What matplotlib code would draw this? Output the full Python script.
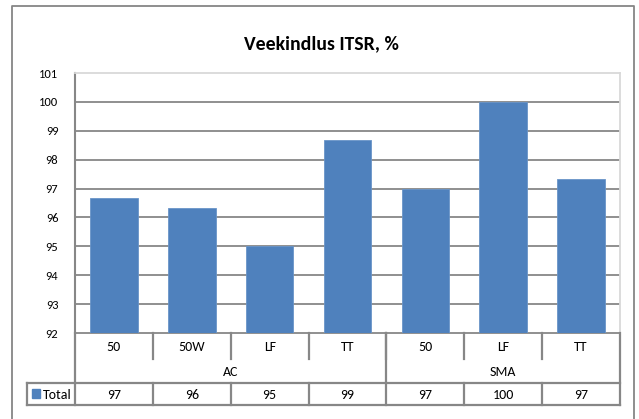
import matplotlib
matplotlib.use("Agg")
import matplotlib.pyplot as plt
from matplotlib.patches import Rectangle
from matplotlib.lines import Line2D

plt.rcParams['font.family'] = ['Carlito', 'Lato', 'DejaVu Sans']

title = "Veekindlus ITSR, %"
categories = ["50", "50W", "LF", "TT", "50", "LF", "TT"]
groups = ["AC", "SMA"]
group_sizes = [4, 3]
values = [96.67, 96.33, 95.0, 98.67, 97.0, 100.0, 97.33]
table_labels = ["97", "96", "95", "99", "97", "100", "97"]
series_name = "Total"
y_ticks = [92, 93, 94, 95, 96, 97, 98, 99, 100, 101]

W, H = 639, 419
DPI = 100
fig = plt.figure(figsize=(W / DPI, H / DPI), dpi=DPI)
fig.patch.set_facecolor("white")

def fx(px):
    return px / W

def fy(py):
    return 1 - py / H

# plot area in pixels
L, R, T, B = 75, 620, 73, 333
ax = fig.add_axes([fx(L), fy(B), fx(R - L), (B - T) / H])

bar_color = "#4F81BD"
grid_color = "#878787"
n = len(categories)
x = list(range(n))
ax.bar(x, values, width=0.61, color=bar_color, edgecolor="#6a94c8", linewidth=0.6, zorder=3)
ax.set_xlim(-0.5, n - 0.5)
ax.set_ylim(y_ticks[0], y_ticks[-1])
ax.set_yticks(y_ticks)
ax.set_yticklabels([str(t) for t in y_ticks], fontsize=9)
ax.tick_params(axis="y", length=0, pad=12, colors="black")
ax.set_xticks([])
for t in y_ticks[1:-1]:
    ax.axhline(t, color=grid_color, linewidth=1.3, zorder=1)
for side in ["top", "right"]:
    ax.spines[side].set_color("#d9d9d9")
    ax.spines[side].set_linewidth(1.3)
ax.spines["left"].set_color(grid_color)
ax.spines["left"].set_linewidth(1.5)
ax.spines["bottom"].set_color(grid_color)
ax.spines["bottom"].set_linewidth(1.3)

# Data table (drawn in figure pixel coordinates)
def px_x(xd):
    return L + (xd + 0.5) * (R - L) / n

lc = grid_color
lw = 1.6
row1_bot = 359
row2_bot = 383
row3_bot = 405
leg_left = 27

def vline(xp, y0, y1):
    fig.add_artist(Line2D([fx(xp), fx(xp)], [fy(y0), fy(y1)], color=lc, linewidth=lw))

def hline(x0, x1, yp):
    fig.add_artist(Line2D([fx(x0), fx(x1)], [fy(yp), fy(yp)], color=lc, linewidth=lw))

# category separators (row 1)
for i in range(1, n):
    vline(px_x(i - 0.5), B, row1_bot)
vline(L, B, row3_bot)
vline(R, B, row3_bot)
pos = 0
for gs in group_sizes[:-1]:
    pos += gs
    vline(px_x(pos - 0.5), B, row2_bot)
hline(leg_left, R, row2_bot)
hline(leg_left, R, row3_bot)
vline(leg_left, row2_bot, row3_bot)
for i in range(1, n):
    vline(px_x(i - 0.5), row2_bot, row3_bot)

fs = 10
for i, c in enumerate(categories):
    fig.text(fx(px_x(i)), fy((B + row1_bot) / 2 + 1), c, ha="center", va="center", fontsize=fs)
pos = 0
for g, gs in zip(groups, group_sizes):
    center = pos + (gs - 1) / 2
    fig.text(fx(px_x(center)), fy((row1_bot + row2_bot) / 2 + 1), g, ha="center", va="center", fontsize=fs)
    pos += gs
for i, t in enumerate(table_labels):
    fig.text(fx(px_x(i)), fy((row2_bot + row3_bot) / 2 + 1), t, ha="center", va="center", fontsize=fs)
# legend key
fig.add_artist(Rectangle((fx(32), fy(398)), fx(8), 9 / H, color=bar_color, transform=fig.transFigure))
fig.text(fx(43), fy((row2_bot + row3_bot) / 2 + 1), series_name, ha="left", va="center", fontsize=fs)

# title
fig.text(fx(321), fy(44), title, ha="center", va="center", fontsize=14.2, fontweight="bold")

# outer chart border (bottom cut off)
bc = "#868686"
fig.add_artist(Line2D([fx(12), fx(12), fx(634), fx(634)], [fy(H + 2), fy(6), fy(6), fy(H + 2)],
                      color=bc, linewidth=1.3))

fig.savefig("out.png", dpi=DPI, facecolor="white")
